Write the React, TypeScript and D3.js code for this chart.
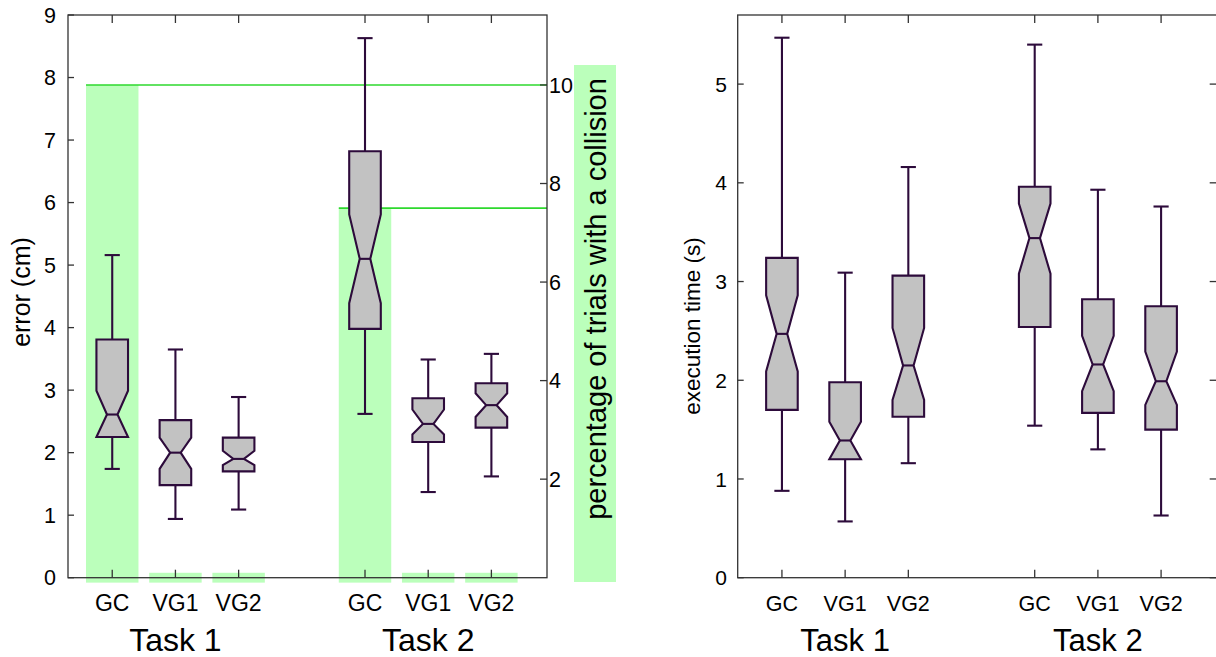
import React from "react";
import * as d3 from "d3";

// ---------- data ----------
const categories = ["GC", "VG1", "VG2", "GC", "VG1", "VG2"];
const positions = [1, 2, 3, 5, 6, 7];
const tasks = ["Task 1", "Task 2"];
const taskCenters = [2, 6];

// error (cm) box stats: whisker low, Q1, notch low, median, notch high, Q3, whisker high
const errWhiskerLow = [1.74, 0.94, 1.09, 2.62, 1.37, 1.62];
const errQ1 = [2.25, 1.48, 1.70, 3.98, 2.17, 2.40];
const errNotchLow = [2.25, 1.74, 1.80, 4.39, 2.29, 2.57];
const errMedian = [2.61, 2.0, 1.9, 5.10, 2.46, 2.76];
const errNotchHigh = [2.99, 2.24, 2.03, 5.81, 2.69, 2.95];
const errQ3 = [3.81, 2.52, 2.24, 6.82, 2.87, 3.11];
const errWhiskerHigh = [5.16, 3.65, 2.89, 8.63, 3.49, 3.58];

// percentage of trials with a collision
const collision = [10, 0, 0, 7.5, 0, 0];

// execution time (s)
const timeWhiskerLow = [0.88, 0.57, 1.16, 1.54, 1.30, 0.63];
const timeQ1 = [1.70, 1.20, 1.63, 2.54, 1.67, 1.50];
const timeNotchLow = [2.09, 1.20, 1.80, 3.08, 1.89, 1.75];
const timeMedian = [2.47, 1.39, 2.15, 3.44, 2.16, 1.99];
const timeNotchHigh = [2.86, 1.58, 2.53, 3.79, 2.45, 2.29];
const timeQ3 = [3.24, 1.98, 3.06, 3.96, 2.82, 2.75];
const timeWhiskerHigh = [5.47, 3.09, 4.16, 5.40, 3.93, 3.76];

const errTicks = [0, 1, 2, 3, 4, 5, 6, 7, 8, 9];
const pctTicks = [2, 4, 6, 8, 10];
const timeTicks = [0, 1, 2, 3, 4, 5];

// ---------- style ----------
const FONT = "'Liberation Sans', Arial, Helvetica, sans-serif";
const AXIS = "#333";
const BOX_STROKE = "#2d0b3b";
const BOX_FILL = "#c2c2c2";
const GREEN_FILL = "#bbffbb";
const GREEN_LINE = "#2ed82e";

const TOP = 15;
const BOTTOM = 577.7;
const PW = 479;

type Stats = {
  lo: number[]; q1: number[]; nlo: number[]; med: number[]; nhi: number[]; q3: number[]; hi: number[];
};

function Boxes({ x, y, s }: { x: d3.ScaleLinear<number, number>; y: d3.ScaleLinear<number, number>; s: Stats }) {
  const unit = x(2) - x(1);
  const bw = unit * 0.5;
  const nw = bw / 3;
  const cw = bw * 0.48;
  return (
    <g>
      {positions.map((p, i) => {
        const cx = x(p);
        const L = cx - bw / 2, R = cx + bw / 2;
        const path = d3.path();
        path.moveTo(L, y(s.q3[i]));
        path.lineTo(R, y(s.q3[i]));
        path.lineTo(R, y(s.nhi[i]));
        path.lineTo(cx + nw / 2, y(s.med[i]));
        path.lineTo(R, y(s.nlo[i]));
        path.lineTo(R, y(s.q1[i]));
        path.lineTo(L, y(s.q1[i]));
        path.lineTo(L, y(s.nlo[i]));
        path.lineTo(cx - nw / 2, y(s.med[i]));
        path.lineTo(L, y(s.nhi[i]));
        path.closePath();
        return (
          <g key={i} stroke={BOX_STROKE} strokeWidth={2.1}>
            <line x1={cx} x2={cx} y1={y(s.hi[i])} y2={y(s.q3[i])} />
            <line x1={cx} x2={cx} y1={y(s.q1[i])} y2={y(s.lo[i])} />
            <line x1={cx - cw / 2} x2={cx + cw / 2} y1={y(s.hi[i])} y2={y(s.hi[i])} />
            <line x1={cx - cw / 2} x2={cx + cw / 2} y1={y(s.lo[i])} y2={y(s.lo[i])} />
            <path d={path.toString()} fill={BOX_FILL} strokeLinejoin="miter" />
            <line x1={cx - nw / 2} x2={cx + nw / 2} y1={y(s.med[i])} y2={y(s.med[i])} />
          </g>
        );
      })}
    </g>
  );
}

function XAxis({ x, catSize, taskSize }: { x: d3.ScaleLinear<number, number>; catSize: number; taskSize: number }) {
  return (
    <g fontFamily={FONT}>
      {positions.map((p, i) => (
        <g key={i}>
          <line x1={x(p)} x2={x(p)} y1={BOTTOM} y2={BOTTOM - 8} stroke={AXIS} strokeWidth={1.3} />
          <line x1={x(p)} x2={x(p)} y1={TOP} y2={TOP + 8} stroke={AXIS} strokeWidth={1.3} />
          <text x={x(p)} y={611} textAnchor="middle" fontSize={catSize} fill="#000">{categories[i]}</text>
        </g>
      ))}
      {tasks.map((t, i) => (
        <text key={t} x={x(taskCenters[i])} y={651} textAnchor="middle" fontSize={taskSize} fill="#000">{t}</text>
      ))}
    </g>
  );
}

export default function App() {
  const x1 = d3.scaleLinear().domain([0.3, 7.88]).range([68, 68 + PW]);
  const x2 = d3.scaleLinear().domain([0.3, 7.88]).range([737.7, 737.7 + PW]);
  const yErr = d3.scaleLinear().domain([0, 9]).range([BOTTOM, TOP]);
  const yPct = d3.scaleLinear().domain([0, 11.42]).range([BOTTOM, TOP]);
  const yTime = d3.scaleLinear().domain([0, 5.7]).range([BOTTOM, TOP]);
  const unit = x1(2) - x1(1);
  const gw = unit * 0.83;

  const errStats: Stats = { lo: errWhiskerLow, q1: errQ1, nlo: errNotchLow, med: errMedian, nhi: errNotchHigh, q3: errQ3, hi: errWhiskerHigh };
  const timeStats: Stats = { lo: timeWhiskerLow, q1: timeQ1, nlo: timeNotchLow, med: timeMedian, nhi: timeNotchHigh, q3: timeQ3, hi: timeWhiskerHigh };

  const L1 = x1.range()[0], R1 = x1.range()[1];
  const L2 = x2.range()[0], R2 = x2.range()[1];

  return (
    <svg width={1216} height={657} style={{ position: "absolute", left: 0, top: 0, display: "block" }} fontFamily={FONT}>
      <rect x={0} y={0} width={1216} height={657} fill="#fff" />
      {/* ---------- left panel ---------- */}
      {positions.map((p, i) => (
        <rect key={"g" + i} x={x1(p) - gw / 2} y={yPct(Math.max(collision[i], 0.1))}
          width={gw} height={yPct(-0.1) - yPct(Math.max(collision[i], 0.1))} fill={GREEN_FILL} />
      ))}
      {positions.map((p, i) => collision[i] > 0 ? (
        <line key={"gl" + i} x1={x1(p) - gw / 2} x2={R1} y1={yPct(collision[i])} y2={yPct(collision[i])}
          stroke={GREEN_LINE} strokeWidth={1.6} />
      ) : null)}
      <Boxes x={x1} y={yErr} s={errStats} />
      <rect x={L1} y={TOP} width={R1 - L1} height={BOTTOM - TOP} fill="none" stroke={AXIS} strokeWidth={1.3} />
      {errTicks.map((t) => (
        <g key={"et" + t}>
          <line x1={L1} x2={L1 + 6} y1={yErr(t)} y2={yErr(t)} stroke={AXIS} strokeWidth={1.3} />
          <text x={56} y={yErr(t)} dy="0.36em" textAnchor="end" fontSize={21.5}>{t}</text>
        </g>
      ))}
      {pctTicks.map((t) => (
        <g key={"pt" + t}>
          <line x1={R1 - 7} x2={R1} y1={yPct(t)} y2={yPct(t)} stroke={AXIS} strokeWidth={1.3} />
          <text x={R1 + 2} y={yPct(t)} dy="0.36em" textAnchor="start" fontSize={21.5}>{t}</text>
        </g>
      ))}
      <XAxis x={x1} catSize={23} taskSize={32} />
      <text transform={`translate(30,292) rotate(-90)`} textAnchor="middle" fontSize={25}>error (cm)</text>
      <rect x={574} y={65} width={42} height={517} fill={GREEN_FILL} />
      <text transform={`translate(606,299) rotate(-90)`} textAnchor="middle" fontSize={29}>percentage of trials with a collision</text>

      {/* ---------- right panel ---------- */}
      <Boxes x={x2} y={yTime} s={timeStats} />
      <rect x={L2} y={TOP} width={R2 - L2} height={BOTTOM - TOP} fill="none" stroke={AXIS} strokeWidth={1.3} />
      {timeTicks.map((t) => (
        <g key={"tt" + t}>
          <line x1={L2} x2={L2 + 6} y1={yTime(t)} y2={yTime(t)} stroke={AXIS} strokeWidth={1.3} />
          <line x1={R2 - 7} x2={R2} y1={yTime(t)} y2={yTime(t)} stroke={AXIS} strokeWidth={1.3} />
          <text x={727} y={yTime(t)} dy="0.36em" textAnchor="end" fontSize={21}>{t}</text>
        </g>
      ))}
      <XAxis x={x2} catSize={21.5} taskSize={31} />
      <text transform={`translate(700,326) rotate(-90)`} textAnchor="middle" fontSize={22.5}>execution time (s)</text>
    </svg>
  );
}
